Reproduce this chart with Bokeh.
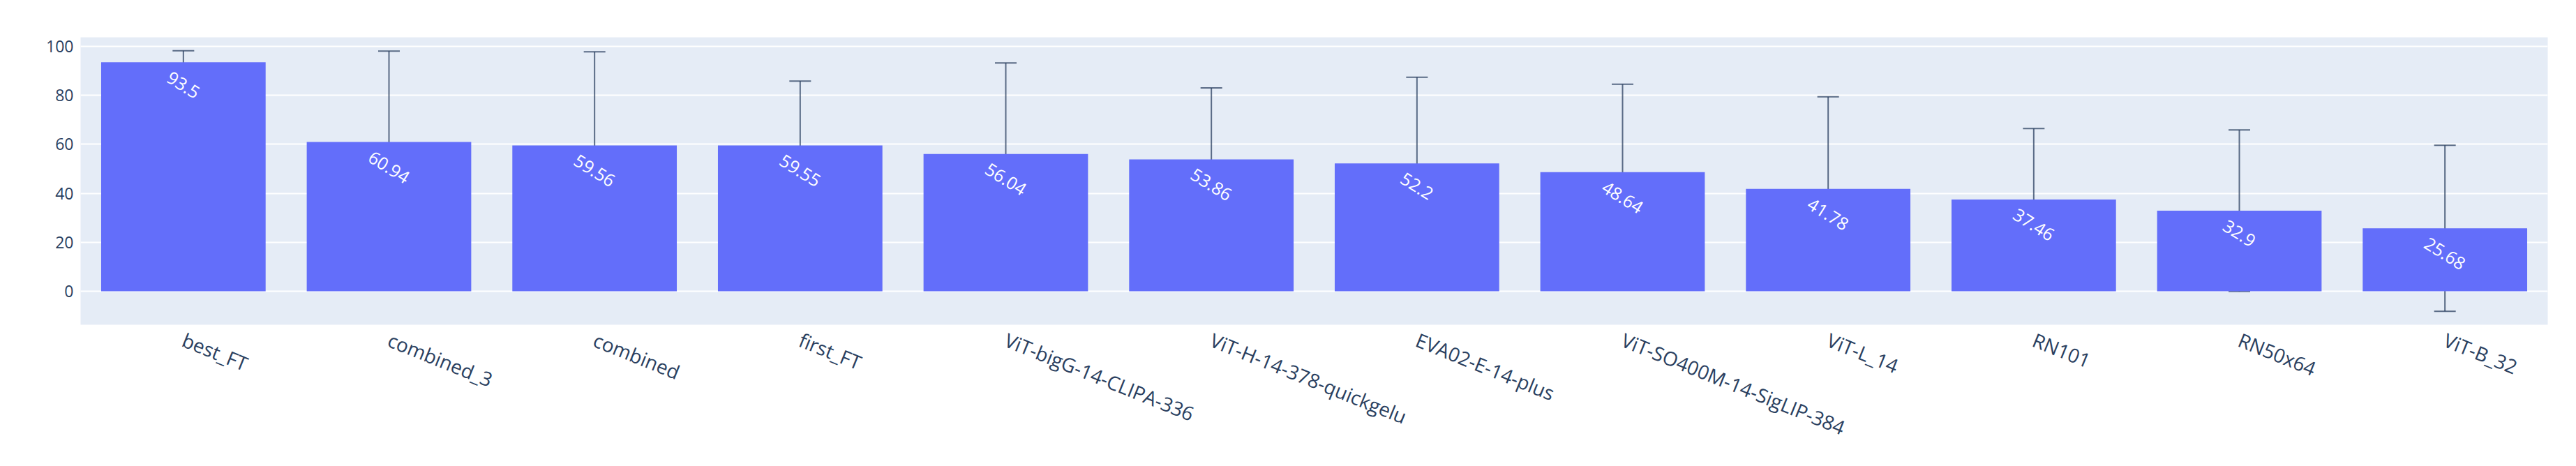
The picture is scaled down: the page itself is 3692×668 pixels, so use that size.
import math
from bokeh.plotting import figure
from bokeh.models import ColumnDataSource, FactorRange, Range1d, FixedTicker, Whisker, TeeHead
from bokeh.core.properties import value
from bokeh.embed import file_html
from bokeh.resources import INLINE

models = ["best_FT", "combined_3", "combined", "first_FT", "ViT-bigG-14-CLIPA-336",
          "ViT-H-14-378-quickgelu", "EVA02-E-14-plus", "ViT-SO400M-14-SigLIP-384",
          "ViT-L_14", "RN101", "RN50x64", "ViT-B_32"]
scores = [93.5, 60.94, 59.56, 59.55, 56.04, 53.86, 52.2, 48.64, 41.78, 37.46, 32.9, 25.68]
errors = [4.7, 37.1, 38.2, 26.3, 37.2, 29.2, 35.2, 35.9, 37.6, 29.0, 33.0, 33.9]
y_ticks = [0, 20, 40, 60, 80, 100]

FONT = "Open Sans"
TXT = "#2a3f5f"
BAR_FS = 25
BAR_ANG = math.radians(32)

labels = [str(v) for v in scores]
offs = []
for t in labels:
    L = len(t) * 0.55 * BAR_FS
    h = 0.75 * BAR_FS
    offs.append(10 + (L * math.sin(BAR_ANG) + h * math.cos(BAR_ANG)) / 2)

src = ColumnDataSource(dict(
    x=models, y=scores, lab=labels, off=offs,
    upper=[s + e for s, e in zip(scores, errors)],
    lower=[s - e for s, e in zip(scores, errors)],
))

p = figure(x_range=FactorRange(*models, range_padding=0), y_range=Range1d(-13.7, 103.7),
           width=3684, height=660, output_backend="svg", toolbar_location=None,
           min_border_left=115, min_border_right=33, min_border_top=53, min_border_bottom=195)
p.background_fill_color = "#E5ECF6"
p.border_fill_color = "white"
p.outline_line_color = None

p.vbar(x="x", top="y", bottom=0, width=0.8, source=src, fill_color="#636efa", line_color=None)

w = Whisker(base="x", upper="upper", lower="lower", source=src,
            line_color=TXT, line_width=2, line_alpha=0.75)
w.upper_head = TeeHead(size=31, line_color=TXT, line_width=2, line_alpha=0.75)
w.lower_head = TeeHead(size=31, line_color=TXT, line_width=2, line_alpha=0.75)
p.add_layout(w)

p.text(x="x", y="y", text="lab", source=src, angle=-BAR_ANG, y_offset="off",
       text_align="center", text_baseline="middle", text_color="white",
       text_font=value(FONT), text_font_size=f"{BAR_FS}px")

p.yaxis.ticker = FixedTicker(ticks=y_ticks)
p.ygrid.ticker = FixedTicker(ticks=y_ticks)
p.ygrid.grid_line_color = "white"
p.ygrid.grid_line_width = 2
p.xgrid.grid_line_color = None

for ax in (p.xaxis, p.yaxis):
    ax.axis_line_color = None
    ax.major_tick_line_color = None
    ax.minor_tick_line_color = None
    ax.major_label_text_font = FONT
    ax.major_label_text_color = TXT
p.yaxis.major_label_text_font_size = "23px"
p.yaxis.major_label_standoff = 4
p.xaxis.major_label_text_font_size = "28px"
p.xaxis.major_label_orientation = -math.radians(22)
p.xaxis.major_label_standoff = 14

open("out.html", "w").write(file_html(p, INLINE))
